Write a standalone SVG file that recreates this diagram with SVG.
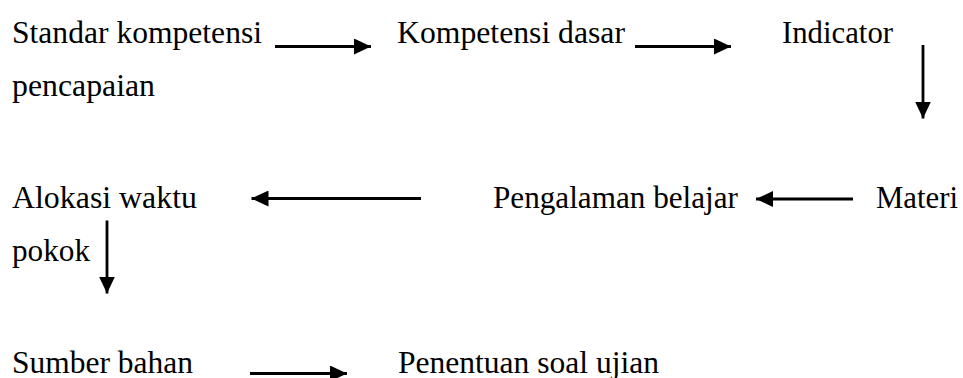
<svg xmlns="http://www.w3.org/2000/svg" width="963" height="378" viewBox="0 0 963 378">
<defs>
<style>
text{font-family:"Liberation Serif","Times New Roman",serif;font-size:31px;fill:#000}
.c{stroke:#000;stroke-width:2.8;fill:none;marker-end:url(#ah)}
</style>
<marker id="ah" markerUnits="userSpaceOnUse" markerWidth="17" markerHeight="16" refX="17" refY="8" orient="auto">
<path d="M0,0 L17,8 L0,16 Z" fill="#000"/>
</marker>
</defs>
<rect width="963" height="378" fill="#fff"/>
<g id="n1"><text x="12" y="43" textLength="250" lengthAdjust="spacingAndGlyphs">Standar kompetensi</text><text x="12" y="96" textLength="143" lengthAdjust="spacingAndGlyphs">pencapaian</text></g>
<g id="n2"><text x="397" y="43" textLength="228" lengthAdjust="spacingAndGlyphs">Kompetensi dasar</text></g>
<g id="n3"><text x="782" y="43" textLength="111" lengthAdjust="spacingAndGlyphs">Indicator</text></g>
<g id="n4"><text x="876" y="208" textLength="82" lengthAdjust="spacingAndGlyphs">Materi</text></g>
<g id="n5"><text x="493" y="208" textLength="245" lengthAdjust="spacingAndGlyphs">Pengalaman belajar</text></g>
<g id="n6"><text x="12" y="208" textLength="185" lengthAdjust="spacingAndGlyphs">Alokasi waktu</text><text x="12" y="261" textLength="78" lengthAdjust="spacingAndGlyphs">pokok</text></g>
<g id="n7"><text x="12" y="373" textLength="181" lengthAdjust="spacingAndGlyphs">Sumber bahan</text></g>
<g id="n8"><text x="398" y="373" textLength="261" lengthAdjust="spacingAndGlyphs">Penentuan soal ujian</text></g>
<g id="connectors">
<line class="c" x1="275" y1="46.5" x2="371" y2="46.5"/>
<line class="c" x1="635" y1="46.5" x2="731" y2="46.5"/>
<line class="c" x1="923" y1="45" x2="923" y2="118.5"/>
<line class="c" x1="853" y1="199" x2="756" y2="199"/>
<line class="c" x1="421" y1="198.5" x2="251.5" y2="198.5"/>
<line class="c" x1="107" y1="220.5" x2="107" y2="293.5"/>
<line class="c" x1="250" y1="373.5" x2="347" y2="373.5"/>
</g>
</svg>
